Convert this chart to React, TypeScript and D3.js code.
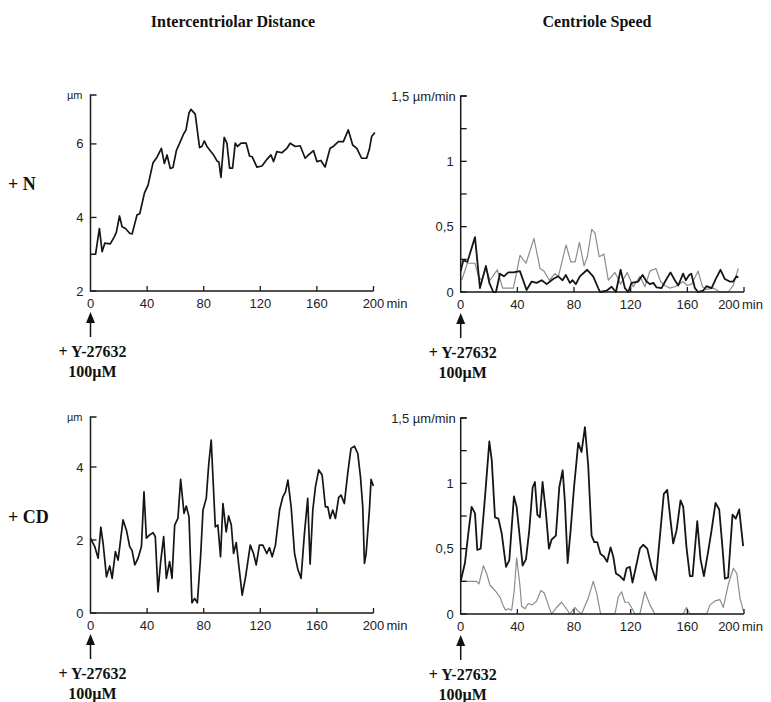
import React from "react";
import * as d3 from "d3";

// Data (time in min, value)
const titles = ["Intercentriolar Distance", "Centriole Speed"];
const rowLabels = ["+ N", "+ CD"];
const timeTicks = [0, 40, 80, 120, 160, 200];
const distTicksN = [2, 4, 6];
const distTicksCD = [0, 2, 4];
const speedTicks = [0, 0.25, 0.5, 0.75, 1, 1.25, 1.5];
const speedLabels = ["0", "", "0,5", "", "1", "", ""];

const nDist: [number, number][] = [
  [0, 3.0], [3.6, 3.0], [6.3, 3.7], [8.2, 3.07], [10.1, 3.3], [14, 3.28], [16.9, 3.48], [18.3, 3.6],
  [20.5, 4.04], [22.3, 3.75], [24.7, 3.7], [27.7, 3.57], [29.4, 3.55], [32.9, 4.07], [34.8, 4.1],
  [38.1, 4.66], [40.7, 4.88], [44.2, 5.49], [47, 5.64], [50.1, 5.88], [52.2, 5.47], [54.1, 5.7],
  [56.4, 5.33], [58.3, 5.36], [60.7, 5.82], [63, 6.02], [65.8, 6.27], [67.5, 6.38], [69.6, 6.84],
  [71, 6.94], [74, 6.81], [77.1, 5.9], [78.7, 5.93], [80.4, 6.08], [82.3, 5.93], [87, 5.7],
  [89.4, 5.54], [90.8, 5.5], [92.2, 5.09], [94.5, 6.18], [96.4, 6.02], [98.3, 5.34], [100.4, 5.34],
  [102.3, 6.02], [104, 5.93], [106.4, 6.02], [110, 6.02], [112.4, 5.67], [114.3, 5.65], [117.6, 5.37],
  [121.2, 5.4], [124.7, 5.58], [127.5, 5.7], [129.4, 5.52], [131.7, 5.79], [135.2, 5.76], [138.8, 5.88],
  [141.1, 6.02], [144.7, 5.93], [148.2, 5.95], [151.7, 5.61], [154.1, 5.7], [157.6, 5.82], [160, 5.52],
  [162.8, 5.55], [165.8, 5.37], [169.3, 5.88], [171.6, 5.93], [175.2, 6.06], [178.7, 6.06], [182.2, 6.38],
  [185.3, 5.97], [188.2, 5.88], [191.6, 5.61], [195.1, 5.61], [197, 5.84], [198.7, 6.2], [201, 6.31],
];

const nSpeedA: [number, number][] = [
  [0, 0.16], [1.9, 0.245], [4.7, 0.23], [10.1, 0.42], [13.6, 0.03], [17.8, 0.2], [20.2, 0.07], [23, 0],
  [24.9, 0], [27.7, 0.14], [30.5, 0.12], [33.6, 0.15], [37.2, 0.15], [41.8, 0.16], [46.5, 0.015],
  [50.1, 0.08], [53.6, 0.07], [57.2, 0.09], [60.7, 0.06], [65.3, 0.1], [68.8, 0.12], [71.9, 0.09],
  [74.2, 0.13], [77.1, 0.07], [79, 0.09], [81.3, 0.06], [84.1, 0.12], [89.3, 0.17], [93.5, 0.12],
  [98.3, 0], [103, 0.01], [106.5, 0.04], [109.6, 0], [112.9, 0.17], [115.9, 0.03], [118.3, 0],
  [120.6, 0.07], [125.3, 0.08], [128.4, 0.13], [131.2, 0.08], [133.6, 0.06], [136, 0.07], [138.3, 0.035],
  [141.8, 0.03], [144.8, 0.09], [148.1, 0.15], [151.2, 0.09], [153.6, 0.05], [157, 0.14], [158.9, 0.09],
  [161.3, 0.13], [162.8, 0.14], [165.3, 0.03], [167.6, 0], [171.1, 0.01], [173.6, 0.045], [177.1, 0.03],
  [180.1, 0.1], [183.4, 0.17], [186.4, 0.1], [190, 0.08], [192.3, 0.08], [194.7, 0.12], [196, 0.11],
];

const nSpeedB: [number, number][] = [
  [0.7, 0.09], [4.7, 0.22], [10.1, 0.22], [12.5, 0.12], [14.8, 0.09], [17.8, 0.18], [20.7, 0.09],
  [25.8, 0.17], [29.6, 0.03], [37.2, 0.03], [41.9, 0.28], [46.1, 0.22], [51.7, 0.41], [56, 0.18],
  [58.8, 0.16], [62.6, 0.09], [66.6, 0.14], [69, 0.12], [74.4, 0.36], [77.7, 0.23], [80.8, 0.23],
  [83.8, 0.38], [87.1, 0.2], [89.4, 0.27], [92.5, 0.48], [94.8, 0.45], [97.8, 0.27], [101.1, 0.29],
  [104.2, 0.09], [108.9, 0.15], [112.9, 0.06], [117.6, 0.15], [121.8, 0.04], [126.5, 0.12], [130, 0.04],
  [133.6, 0.16], [137.8, 0.18], [141.1, 0.08], [144.1, 0.05], [147.6, 0.03], [151.2, 0.04], [154.2, 0.06],
  [157, 0.08], [159.9, 0.05], [163, 0.06], [167.6, 0.16], [170.7, 0.04], [173.6, 0.02], [178.3, 0.03],
  [183, 0], [188.9, 0], [192.4, 0.05], [196, 0.18],
];

const cdDist: [number, number][] = [
  [0, 2.05], [3, 1.82], [5.4, 1.5], [7.3, 2.35], [8.9, 1.91], [11.3, 0.99], [13.6, 1.29], [15.3, 0.95],
  [17.6, 1.68], [19.5, 1.45], [23, 2.55], [25.4, 2.27], [27.7, 1.82], [29.4, 1.71], [31.3, 1.32],
  [33.6, 1.5], [36, 1.82], [37.8, 3.32], [39.5, 2.05], [41.8, 2.14], [44.2, 2.2], [45.8, 2.09],
  [47.7, 0.58], [49.6, 1.41], [51.7, 2.09], [53.6, 0.95], [55.9, 1.41], [57.6, 0.95], [59.5, 2.41],
  [61.8, 2.6], [63.7, 3.66], [66.1, 2.73], [67.7, 2.93], [69.6, 2.64], [71.7, 0.28], [73.6, 0.4],
  [75.5, 0.28], [77.8, 1.54], [79.5, 2.82], [81.8, 3.14], [83.5, 4.05], [85.3, 4.74], [88.2, 2.36],
  [90, 2.41], [91.9, 1.54], [93.6, 3.0], [95.9, 2.22], [97.6, 2.66], [99.5, 2.41], [101.1, 1.63],
  [103, 1.93], [104.9, 1.27], [107.2, 0.49], [109.6, 0.99], [112.9, 1.86], [115.2, 1.63], [117.1, 1.32],
  [119.4, 1.86], [121.8, 1.86], [124.6, 1.63], [126.5, 1.79], [128.4, 1.54], [130.7, 1.86], [133.6, 2.82],
  [136, 3.19], [137.8, 3.32], [139.5, 3.64], [141.8, 2.91], [144.2, 1.63], [146.5, 1.2], [148.8, 0.95],
  [151.2, 2.18], [153.5, 3.14], [155.2, 1.34], [157.1, 2.82], [159, 3.46], [161.3, 3.92], [163.7, 3.78],
  [166, 2.91], [167.7, 2.91], [169.3, 2.59], [171.2, 2.82], [173.1, 2.59], [175.4, 3.17], [177.1, 3.23],
  [179.4, 3.0], [181.8, 3.83], [184.1, 4.51], [186.5, 4.57], [188.9, 4.37], [190.8, 3.73], [192.4, 2.91],
  [193.6, 1.36], [194.8, 1.63], [197.1, 2.82], [198.3, 3.66], [199.9, 3.48],
];

const cdSpeedA: [number, number][] = [
  [0, 0.25], [3, 0.39], [5.4, 0.62], [7.7, 0.82], [10.1, 0.77], [11.7, 0.49], [14.1, 0.5], [17.2, 0.9],
  [20.2, 1.32], [21.9, 1.18], [24.2, 0.74], [26.6, 0.73], [28.9, 0.62], [32, 0.36], [34.3, 0.41],
  [37.6, 0.9], [39.5, 0.82], [41.4, 0.62], [43.7, 0.37], [46.1, 0.42], [48.4, 0.64], [50.8, 0.97],
  [52.4, 1.01], [54.1, 0.76], [55.9, 0.74], [57.8, 1.01], [60.2, 0.77], [62.3, 0.5], [64.2, 0.57],
  [67.2, 0.6], [69.6, 0.97], [72, 1.1], [73.6, 0.85], [75.5, 0.39], [77.6, 0.64], [80, 0.97], [83, 1.31],
  [85.3, 1.24], [87.7, 1.43], [90, 1.14], [92.4, 0.6], [94.3, 0.55], [96.4, 0.55], [98.7, 0.46],
  [101.1, 0.44], [103.4, 0.4], [105.8, 0.51], [107.7, 0.44], [109.6, 0.31], [112.4, 0.29], [115.2, 0.26],
  [117.1, 0.35], [119.4, 0.36], [121.3, 0.24], [123.7, 0.36], [126.5, 0.5], [128.8, 0.53], [131.7, 0.5],
  [134.7, 0.36], [137.8, 0.26], [140.6, 0.59], [143.4, 0.92], [145.8, 0.95], [148.1, 0.72], [150, 0.54],
  [152.4, 0.64], [155.2, 0.87], [157.1, 0.82], [159.4, 0.51], [161.8, 0.29], [163.7, 0.29], [167, 0.71],
  [169.3, 0.42], [171.7, 0.29], [174.7, 0.48], [177.1, 0.64], [179.9, 0.85], [182.5, 0.8], [184.8, 0.51],
  [186.5, 0.27], [188.8, 0.28], [191.9, 0.76], [194.2, 0.73], [196.6, 0.8], [199.4, 0.52],
];

const cdSpeedB: [number, number][] = [
  [0, 0.25], [11.3, 0.25], [12.9, 0.23], [16, 0.37], [18.3, 0.31], [20.7, 0.22], [24.2, 0.18],
  [27.7, 0.13], [30.1, 0.06], [31.7, 0.03], [33.6, 0.04], [36, 0.03], [37.8, 0.18], [39.5, 0.43],
  [41.8, 0.22], [43, 0.06], [45.4, 0.04], [47.7, 0.08], [50.5, 0.07], [53.6, 0.1], [56.6, 0.18],
  [59, 0.16], [61.8, 0.07], [64.2, 0], [67.7, 0.05], [71.2, 0.09], [74.7, 0.04], [77.1, 0], [80.6, 0.05],
  [83, 0.02], [85.3, 0], [90, 0.12], [93.6, 0.25], [96, 0.16], [98.8, 0], [108.9, 0], [111.2, 0.13],
  [113.6, 0.17], [115.9, 0.09], [118.3, 0.09], [120.6, 0.05], [123, 0], [126.5, 0], [130, 0.17],
  [133.6, 0.07], [137.1, 0], [157, 0], [159.4, 0.05], [161.8, 0], [173.6, 0], [176, 0.07], [179.5, 0.1],
  [183, 0.11], [185.4, 0.05], [189, 0.23], [192.5, 0.35], [194.9, 0.31], [197.2, 0.12], [199.6, 0.02],
];

const SANS = "'Liberation Sans', Arial, sans-serif";
const SERIF = "'Liberation Serif', 'Times New Roman', serif";

type Scale = d3.ScaleLinear<number, number>;

const Panel = ({ x, y, yTicks, yLabels, unit, unitRight, series }: {
  x: Scale; y: Scale; yTicks: number[]; yLabels: string[]; unit: string; unitRight?: boolean;
  series: { data: [number, number][]; color: string; width: number }[];
}) => {
  const [x0] = x.range();
  const [yBottom, yTop] = y.range();
  const line = d3.line<[number, number]>().x((d) => x(d[0])).y((d) => y(d[1]));
  const tl = 6;
  // the right-hand panels have "200 min" pulled left so it stays inside the figure
  const lastShift = unitRight ? -15 : 0;
  return (
    <g>
      {series.map((s, i) => (
        <path key={i} d={line(s.data) || ""} fill="none" stroke={s.color} strokeWidth={s.width} strokeLinejoin="round" />
      ))}
      {/* axes */}
      <path d={`M${x0 + tl},${yTop}H${x0}V${yBottom}H${x(200)}`} fill="none" stroke="#1a1a1a" strokeWidth={1.5} />
      {yTicks.map((t, i) => (
        <g key={i}>
          <line x1={x0} x2={x0 + tl} y1={y(t)} y2={y(t)} stroke="#1a1a1a" strokeWidth={1.3} />
          {yLabels[i] && (
            <text x={x0 - 7} y={y(t)} dy="0.35em" textAnchor="end" fontFamily={SANS} fontSize={13} fill="#222">{yLabels[i]}</text>
          )}
        </g>
      ))}
      <text x={unitRight ? x0 - 5 : x0 - 8} y={yTop} dy="0.35em" textAnchor="end" fontFamily={SANS} fontSize={unitRight ? 13 : 11} fill="#222">{unit}</text>
      {timeTicks.map((t) => (
        <g key={t}>
          {t > 0 && <line x1={x(t)} x2={x(t)} y1={yBottom} y2={yBottom - 5} stroke="#1a1a1a" strokeWidth={1.3} />}
          <text x={x(t) + (t === 200 ? lastShift : 0)} y={yBottom + 17} textAnchor="middle" fontFamily={SANS} fontSize={13} fill="#222">{t}</text>
        </g>
      ))}
      <text x={x(200) + 13 + lastShift} y={yBottom + 17} fontFamily={SANS} fontSize={13} fill="#222">min</text>
      {/* drug addition arrow */}
      <path d={`M${x0},${yBottom + 21}l-4.5,11h9z`} fill="#111" />
      <line x1={x0} x2={x0} y1={yBottom + 30} y2={yBottom + 46} stroke="#111" strokeWidth={1.5} />
      <text x={x0 + 2} y={yBottom + 66} textAnchor="middle" fontFamily={SERIF} fontWeight="bold" fontSize={16} fill="#111">+ Y-27632</text>
      <text x={x0 + 2} y={yBottom + 86} textAnchor="middle" fontFamily={SERIF} fontWeight="bold" fontSize={16} fill="#111">100µM</text>
    </g>
  );
};

export default function App() {
  const xLeft = d3.scaleLinear().domain([0, 200]).range([90.5, 373.5]);
  const xRight = d3.scaleLinear().domain([0, 200]).range([460.7, 744]);
  const yNDist = d3.scaleLinear().domain([2, 7.33]).range([291, 95]);
  const yCDDist = d3.scaleLinear().domain([0, 5.37]).range([613, 417]);
  const yNSpeed = d3.scaleLinear().domain([0, 1.5]).range([292, 96]);
  const yCDSpeed = d3.scaleLinear().domain([0, 1.5]).range([614, 418]);
  const black = "#151515";
  const grey = "#8c8c8c";

  return (
    <svg width={771} height={702} style={{ position: "absolute", left: 0, top: 0, background: "#fff" }}>
      <text x={233} y={27} textAnchor="middle" fontFamily={SERIF} fontWeight="bold" fontSize={16} fill="#111">{titles[0]}</text>
      <text x={597} y={27} textAnchor="middle" fontFamily={SERIF} fontWeight="bold" fontSize={16} fill="#111">{titles[1]}</text>
      <text x={8} y={190} fontFamily={SERIF} fontWeight="bold" fontSize={18} fill="#111">{rowLabels[0]}</text>
      <text x={8} y={523} fontFamily={SERIF} fontWeight="bold" fontSize={18} fill="#111">{rowLabels[1]}</text>

      <Panel x={xLeft} y={yNDist} yTicks={distTicksN} yLabels={distTicksN.map(String)} unit="µm"
        series={[{ data: nDist, color: black, width: 1.7 }]} />
      <Panel x={xRight} y={yNSpeed} yTicks={speedTicks} yLabels={speedLabels} unit="1,5 µm/min" unitRight
        series={[{ data: nSpeedB, color: grey, width: 1.2 }, { data: nSpeedA, color: black, width: 1.8 }]} />
      <Panel x={xLeft} y={yCDDist} yTicks={distTicksCD} yLabels={distTicksCD.map(String)} unit="µm"
        series={[{ data: cdDist, color: black, width: 1.7 }]} />
      <Panel x={xRight} y={yCDSpeed} yTicks={speedTicks} yLabels={speedLabels} unit="1,5 µm/min" unitRight
        series={[{ data: cdSpeedB, color: grey, width: 1.2 }, { data: cdSpeedA, color: black, width: 1.8 }]} />
    </svg>
  );
}
